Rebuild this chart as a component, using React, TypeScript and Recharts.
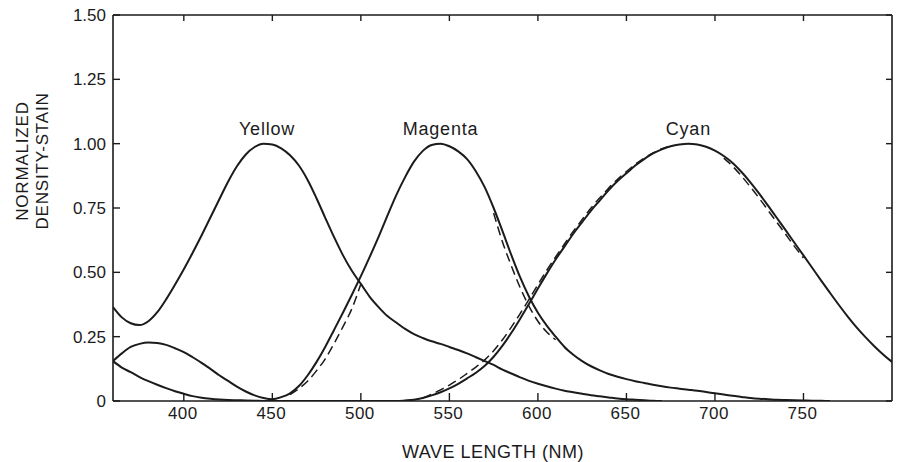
import React from 'react';
import { LineChart, Line, XAxis, YAxis, ReferenceDot } from 'recharts';

const _ = null;

// wavelength grid, nm
const wavelengths = [
  360, 365, 370, 375, 380, 385, 390, 395, 400, 405,
  410, 415, 420, 425, 430, 435, 440, 445, 450, 455,
  460, 465, 470, 475, 480, 485, 490, 495, 500, 505,
  510, 515, 520, 525, 530, 535, 540, 545, 550, 555,
  560, 565, 570, 575, 580, 585, 590, 595, 600, 605,
  610, 615, 620, 625, 630, 635, 640, 645, 650, 655,
  660, 665, 670, 675, 680, 685, 690, 695, 700, 705,
  710, 715, 720, 725, 730, 735, 740, 745, 750, 755,
  760, 765, 770, 775, 780, 785, 790, 795, 800,
];

const yellow = [
  0.365, 0.325, 0.302, 0.295, 0.31, 0.345, 0.395, 0.452, 0.512, 0.576,
  0.643, 0.713, 0.783, 0.852, 0.912, 0.958, 0.987, 1.0, 0.997, 0.982,
  0.955, 0.915, 0.858, 0.787, 0.71, 0.635, 0.565, 0.505, 0.455, 0.405,
  0.365, 0.33, 0.305, 0.28, 0.26, 0.245, 0.232, 0.222, 0.21, 0.198,
  0.185, 0.17, 0.155, 0.14, 0.122, 0.107, 0.092, 0.078, 0.067, 0.057,
  0.048, 0.04, 0.034, 0.028, 0.022, 0.018, 0.014, 0.01, 0.007, 0.005,
  0.003, 0.001, 0, _, _, _, _, _, _, _,
  _, _, _, _, _, _, _, _, _, _,
  _, _, _, _, _, _, _, _, _,
];

const magenta = [
  0.155, 0.185, 0.21, 0.222, 0.227, 0.225, 0.218, 0.205, 0.19, 0.17,
  0.148, 0.125, 0.1, 0.078, 0.056, 0.037, 0.022, 0.012, 0.007, 0.015,
  0.03, 0.058, 0.1, 0.152, 0.212, 0.278, 0.345, 0.414, 0.485, 0.56,
  0.638, 0.72, 0.8, 0.87, 0.93, 0.972, 0.995, 1.0, 0.99, 0.97,
  0.94, 0.892, 0.83, 0.75, 0.66, 0.567, 0.48, 0.405, 0.343, 0.293,
  0.25, 0.21, 0.18, 0.155, 0.135, 0.119, 0.105, 0.094, 0.085, 0.077,
  0.07, 0.063, 0.057, 0.052, 0.048, 0.044, 0.04, 0.035, 0.03, 0.025,
  0.02, 0.016, 0.012, 0.009, 0.007, 0.005, 0.004, 0.003, 0.002, 0.001,
  0.0005, 0, _, _, _, _, _, _, _,
];

const cyan = [
  0.155, 0.13, 0.112, 0.093, 0.077, 0.063, 0.05, 0.038, 0.028, 0.019,
  0.013, 0.009, 0.006, 0.004, 0.003, 0.002, 0.001, 0, 0, 0,
  0, 0, 0, 0, 0, 0, 0, 0, 0, 0,
  0, 0, 0, 0.002, 0.005, 0.012, 0.022, 0.034, 0.049, 0.067,
  0.088, 0.11, 0.137, 0.172, 0.215, 0.265, 0.32, 0.378, 0.437, 0.495,
  0.55, 0.6, 0.65, 0.695, 0.74, 0.78, 0.82, 0.855, 0.885, 0.915,
  0.94, 0.962, 0.978, 0.99, 0.997, 1.0, 0.997, 0.988, 0.973, 0.952,
  0.925, 0.89, 0.85, 0.806, 0.759, 0.711, 0.663, 0.614, 0.566, 0.517,
  0.468, 0.42, 0.373, 0.328, 0.286, 0.248, 0.213, 0.181, 0.152,
];

// dashed (fitted) segments
const magentaFit = [
  _, _, _, _, _, _, _, _, _, _,
  _, _, _, _, _, _, _, _, _, _,
  0.025, 0.048, 0.078, 0.118, 0.165, 0.225, 0.29, 0.36, 0.455, _,
  _, _, _, _, _, _, _, _, _, _,
  _, _, _, 0.73, 0.618, 0.525, 0.44, 0.368, 0.31, 0.268,
  0.238, _, _, _, _, _, _, _, _, _,
  _, _, _, _, _, _, _, _, _, _,
  _, _, _, _, _, _, _, _, _, _,
  _, _, _, _, _, _, _, _, _,
];

const cyanFit = [
  _, _, _, _, _, _, _, _, _, _,
  _, _, _, _, _, _, _, _, _, _,
  _, _, _, _, _, _, _, _, _, _,
  _, _, _, _, _, 0.012, 0.026, 0.043, 0.062, 0.083,
  0.107, 0.132, 0.16, 0.195, 0.238, 0.287, 0.34, 0.395, 0.452, 0.508,
  0.56, 0.61, 0.66, 0.705, 0.75, 0.79, 0.828, 0.862, 0.892, 0.92,
  0.944, 0.964, 0.98, 0.99, _, _, _, _, _, 0.944,
  0.912, 0.874, 0.832, 0.788, 0.741, 0.694, 0.647, 0.6, 0.556, _,
  _, _, _, _, _, _, _, _, _,
];

const xTicks = [400, 450, 500, 550, 600, 650, 700, 750];
const yTicks = [0, 0.25, 0.5, 0.75, 1.0, 1.25, 1.5];

const curveNames = ['Yellow', 'Magenta', 'Cyan'];
const curvePeaks = [447, 545, 685];

const rows = wavelengths.map((nm, i) => ({
  nm,
  yellow: yellow[i],
  magenta: magenta[i],
  cyan: cyan[i],
  magentaFit: magentaFit[i],
  cyanFit: cyanFit[i],
}));

const INK = '#1b1b1b';
const FONT = '"Liberation Sans", Arial, Helvetica, sans-serif';

const BottomTick = ({ x, y, payload }: any) => (
  <g>
    <line x1={x} y1={y} x2={x} y2={y - 8} stroke={INK} strokeWidth={1.4} />
    <text x={x - 1} y={y + 18} textAnchor="middle" fontSize={17} fill={INK} fontFamily={FONT} letterSpacing={0.5}>
      {payload.value}
    </text>
  </g>
);

const TopTick = ({ x, y }: any) => (
  <line x1={x} y1={y} x2={x} y2={y + 6} stroke={INK} strokeWidth={1.4} />
);

const LeftTick = ({ x, y, payload }: any) => (
  <g>
    <line x1={x} y1={y} x2={x + 7} y2={y} stroke={INK} strokeWidth={1.4} />
    <text x={x - 7} y={y + 6} textAnchor="end" fontSize={17} fill={INK} fontFamily={FONT}>
      {payload.value === 0 ? '0' : payload.value.toFixed(2)}
    </text>
  </g>
);

const RightTick = ({ x, y }: any) => (
  <line x1={x} y1={y} x2={x - 6} y2={y} stroke={INK} strokeWidth={1.4} />
);

const YTitle = () => (
  <g fontFamily={FONT} fontSize={17} fill={INK} letterSpacing={0.8}>
    <text x={0} y={0} transform="translate(28, 161) rotate(-90)" textAnchor="middle">NORMALIZED</text>
    <text x={0} y={0} transform="translate(48, 161) rotate(-90)" textAnchor="middle">DENSITY-STAIN</text>
  </g>
);

const XTitle = () => (
  <text x={493} y={458} textAnchor="middle" fontSize={18} fill={INK} fontFamily={FONT} letterSpacing={0.5}>
    WAVE LENGTH (NM)
  </text>
);

const PeakLabel = ({ viewBox, value }: any) => (
  <text x={viewBox.x} y={viewBox.y - 9} textAnchor="middle" fontSize={18} fill={INK} fontFamily={FONT} letterSpacing={0.8}>
    {value}
  </text>
);

export default function App() {
  return (
    <div style={{ position: 'absolute', left: 0, top: 0, background: '#fff' }}>
      <LineChart width={900} height={462} data={rows} margin={{ top: 14, right: 7, bottom: 21, left: 0 }}>
        <XAxis
          xAxisId="b"
          dataKey="nm"
          type="number"
          domain={[360, 800]}
          ticks={xTicks}
          height={40}
          tickSize={0}
          tickMargin={0}
          tickLine={false}
          tick={<BottomTick />}
          axisLine={{ stroke: INK, strokeWidth: 1.6 }}
          label={<XTitle />}
          allowDataOverflow
        />
        <XAxis
          xAxisId="t"
          orientation="top"
          dataKey="nm"
          type="number"
          domain={[360, 800]}
          ticks={xTicks}
          height={1}
          tickSize={0}
          tickMargin={0}
          tickLine={false}
          tick={<TopTick />}
          axisLine={{ stroke: INK, strokeWidth: 1.6 }}
          allowDataOverflow
        />
        <YAxis
          yAxisId="l"
          type="number"
          domain={[0, 1.5]}
          ticks={yTicks}
          width={113}
          tickSize={0}
          tickMargin={0}
          tickLine={false}
          tick={<LeftTick />}
          axisLine={{ stroke: INK, strokeWidth: 1.6 }}
          label={<YTitle />}
          allowDataOverflow
        />
        <YAxis
          yAxisId="r"
          orientation="right"
          type="number"
          domain={[0, 1.5]}
          ticks={yTicks}
          width={1}
          tickSize={0}
          tickMargin={0}
          tickLine={false}
          tick={<RightTick />}
          axisLine={{ stroke: INK, strokeWidth: 1.6 }}
          allowDataOverflow
        />
        <Line xAxisId="b" yAxisId="l" type="monotone" dataKey="yellow" stroke={INK} strokeWidth={2} dot={false} activeDot={false} isAnimationActive={false} />
        <Line xAxisId="b" yAxisId="l" type="monotone" dataKey="magenta" stroke={INK} strokeWidth={2} dot={false} activeDot={false} isAnimationActive={false} />
        <Line xAxisId="b" yAxisId="l" type="monotone" dataKey="cyan" stroke={INK} strokeWidth={2} dot={false} activeDot={false} isAnimationActive={false} />
        <Line xAxisId="b" yAxisId="l" type="monotone" dataKey="magentaFit" stroke={INK} strokeWidth={1.5} strokeDasharray="9 5" dot={false} activeDot={false} isAnimationActive={false} />
        <Line xAxisId="b" yAxisId="l" type="monotone" dataKey="cyanFit" stroke={INK} strokeWidth={1.5} strokeDasharray="9 5" dot={false} activeDot={false} isAnimationActive={false} />
        {curveNames.map((name, i) => (
          <ReferenceDot
            key={name}
            xAxisId="b"
            yAxisId="l"
            x={curvePeaks[i]}
            y={1.0}
            r={0}
            fill="none"
            stroke="none"
            label={<PeakLabel value={name} />}
          />
        ))}
      </LineChart>
    </div>
  );
}
